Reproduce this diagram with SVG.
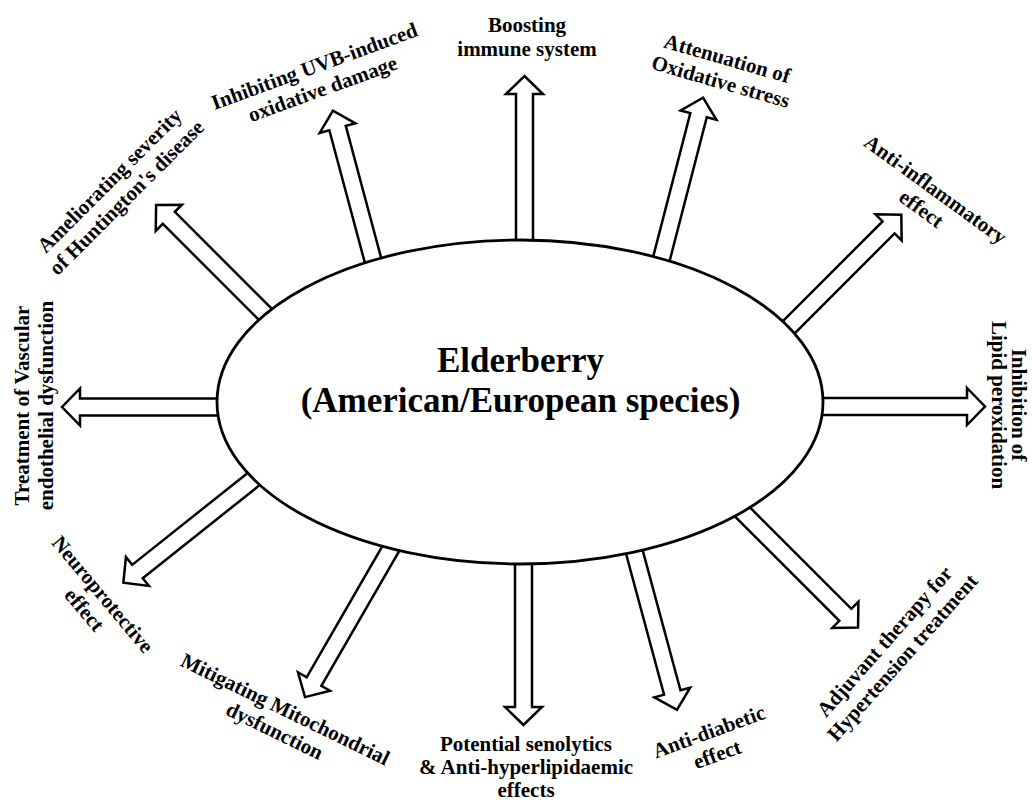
<svg xmlns="http://www.w3.org/2000/svg" width="1032" height="800" viewBox="0 0 1032 800">
<style>
.arrow{fill:#fff;stroke:#000;stroke-width:2.5;stroke-linejoin:miter}
.hub{fill:#fff;stroke:#000;stroke-width:2.8}
.lbl{font-family:"Liberation Serif","Times New Roman",serif;font-weight:bold;font-size:21px;fill:#000;text-anchor:middle}
.title{font-family:"Liberation Serif","Times New Roman",serif;font-weight:bold;font-size:35px;fill:#000;text-anchor:middle}
</style>
<rect width="1032" height="800" fill="#fff"/>
<g id="connectors">
<path class="arrow" transform="translate(524.5,240) rotate(-90)" d="M-15,-8.5 H146 V-18.5 L164,0 L146,18.5 V8.5 H-15 Z"/>
<path class="arrow" transform="translate(662,256.5) rotate(-75.5)" d="M-15,-8.5 H146 V-18.5 L164,0 L146,18.5 V8.5 H-15 Z"/>
<path class="arrow" transform="translate(791,325) rotate(-45)" d="M-15,-8.5 H138 V-18.5 L156,0 L138,18.5 V8.5 H-15 Z"/>
<path class="arrow" transform="translate(823,406.5)" d="M-15,-8.5 H144 V-18.5 L162,0 L144,18.5 V8.5 H-15 Z"/>
<path class="arrow" transform="translate(743.5,513) rotate(45)" d="M-15,-8.5 H144 V-18.5 L162,0 L144,18.5 V8.5 H-15 Z"/>
<path class="arrow" transform="translate(634.5,552.5) rotate(74.9)" d="M-15,-8.5 H145 V-18.5 L163,0 L145,18.5 V8.5 H-15 Z"/>
<path class="arrow" transform="translate(523.5,565) rotate(90)" d="M-15,-8.5 H142 V-18.5 L160,0 L142,18.5 V8.5 H-15 Z"/>
<path class="arrow" transform="translate(390.5,549) rotate(120)" d="M-15,-8.5 H153 V-18.5 L171,0 L153,18.5 V8.5 H-15 Z"/>
<path class="arrow" transform="translate(252.5,480) rotate(141.5)" d="M-15,-8.5 H147 V-18.5 L165,0 L147,18.5 V8.5 H-15 Z"/>
<path class="arrow" transform="translate(217,407) rotate(180)" d="M-15,-8.5 H137 V-18.5 L155,0 L137,18.5 V8.5 H-15 Z"/>
<path class="arrow" transform="translate(265,314) rotate(-135)" d="M-15,-8.5 H136 V-18.5 L154,0 L136,18.5 V8.5 H-15 Z"/>
<path class="arrow" transform="translate(372.5,258.5) rotate(-105)" d="M-15,-8.5 H135 V-18.5 L153,0 L135,18.5 V8.5 H-15 Z"/>
</g>
<g id="elderberry">
<ellipse class="hub" cx="520" cy="402" rx="303" ry="162"/>
<text class="title" x="520.5" y="372">Elderberry</text>
<text class="title" x="520.5" y="412">(American/European species)</text>
</g>
<g id="boosting" transform="translate(527,37)"><text class="lbl"><tspan x="0" y="-5">Boosting</tspan><tspan x="0" y="19">immune system</tspan></text></g>
<g id="attenuation" transform="translate(724,70) rotate(16)"><text class="lbl"><tspan x="0" y="-5">Attenuation of</tspan><tspan x="0" y="19">Oxidative stress</tspan></text></g>
<g id="antiinflammatory" transform="translate(928.5,199) rotate(36)"><text class="lbl"><tspan x="0" y="-5">Anti-inflammatory</tspan><tspan x="0" y="19">effect</tspan></text></g>
<g id="lipid" transform="translate(1001,405) rotate(90)"><text class="lbl"><tspan x="0" y="-11">Inhibition of</tspan><tspan x="0" y="9">Lipid peroxidation</tspan></text></g>
<g id="adjuvant" transform="translate(893.5,649.5) rotate(-48.5)"><text class="lbl"><tspan x="0" y="-5">Adjuvant therapy for</tspan><tspan x="0" y="19">Hypertension treatment</tspan></text></g>
<g id="antidiabetic" transform="translate(713,743) rotate(-20)"><text class="lbl"><tspan x="0" y="-5">Anti-diabetic</tspan><tspan x="0" y="19">effect</tspan></text></g>
<g id="senolytics"><text class="lbl"><tspan x="526" y="751">Potential senolytics</tspan><tspan x="526" y="774">&amp; Anti-hyperlipidaemic</tspan><tspan x="526" y="797">effects</tspan></text></g>
<g id="mitochondrial" transform="translate(280,720) rotate(26)"><text class="lbl"><tspan x="0" y="-5">Mitigating Mitochondrial</tspan><tspan x="0" y="19">dysfunction</tspan></text></g>
<g id="neuroprotective" transform="translate(93.5,602) rotate(50)"><text class="lbl"><tspan x="0" y="-5">Neuroprotective</tspan><tspan x="0" y="19">effect</tspan></text></g>
<g id="vascular" transform="translate(34,405.5) rotate(-90)"><text class="lbl"><tspan x="0" y="-5">Treatment of Vascular</tspan><tspan x="0" y="19">endothelial dysfunction</tspan></text></g>
<g id="huntington" transform="translate(118,189) rotate(-45)"><text class="lbl"><tspan x="0" y="-5">Ameliorating severity</tspan><tspan x="0" y="19">of Huntington's disease</tspan></text></g>
<g id="uvb" transform="translate(318.5,77.5) rotate(-20)"><text class="lbl"><tspan x="0" y="-5">Inhibiting UVB-induced</tspan><tspan x="0" y="19">oxidative damage</tspan></text></g>
</svg>
